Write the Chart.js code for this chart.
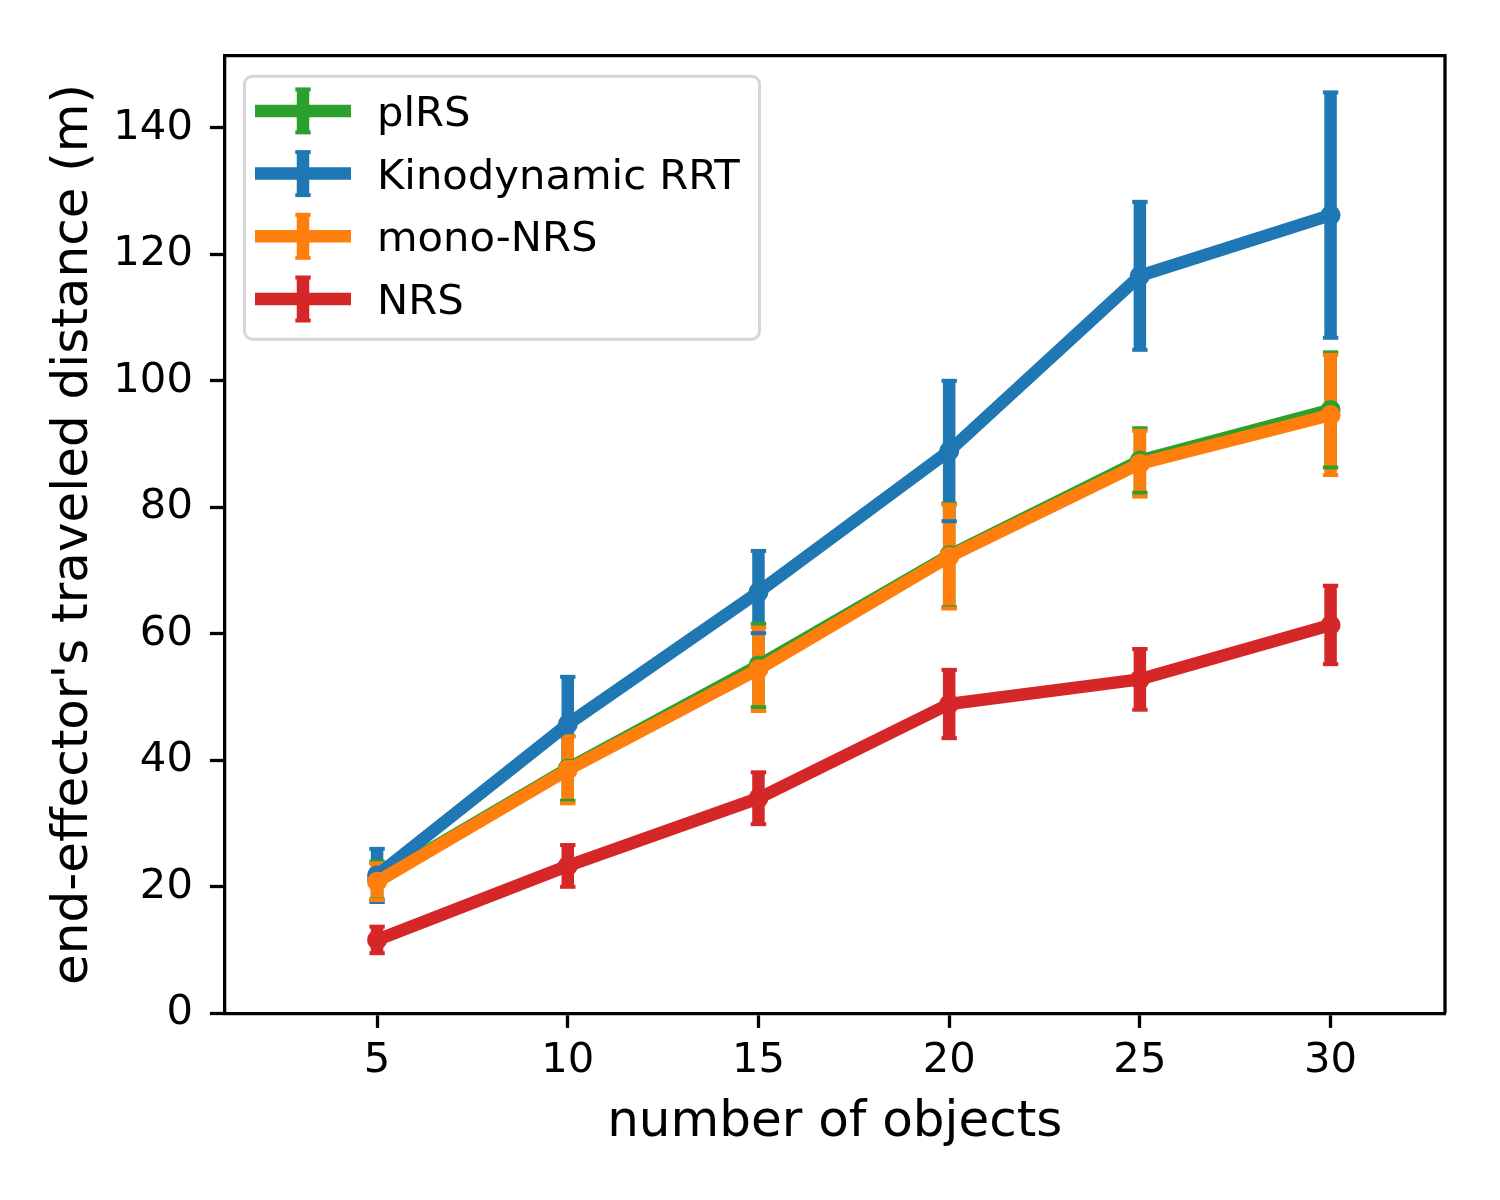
<!DOCTYPE html>
<html>
<head>
<meta charset="utf-8">
<script src="https://cdn.jsdelivr.net/npm/chart.js@4.4.1/dist/chart.umd.min.js"></script>
<style>
  html, body { margin: 0; padding: 0; background: #fff; }
  #wrap { width: 1500px; height: 1200px; }
</style>
</head>
<body>
<div id="wrap"><canvas id="grafico" width="1500" height="1200"></canvas></div>
<script>
// dados
const objetos = [5, 10, 15, 20, 25, 30];
const plrsMedia = [21.0, 38.7, 55.0, 72.4, 87.4, 95.4];
const plrsErro = [3.0, 5.1, 6.6, 8.2, 5.1, 9.1];
const rrtMedia = [21.8, 45.7, 66.6, 88.9, 116.6, 126.2];
const rrtErro = [4.2, 7.5, 6.5, 11.1, 11.7, 19.4];
const monoMedia = [20.8, 38.5, 54.4, 72.2, 86.9, 94.6];
const monoErro = [2.9, 5.3, 6.6, 8.2, 5.2, 9.5];
const nrsMedia = [11.6, 23.3, 34.0, 48.9, 52.8, 61.4];
const nrsErro = [2.1, 3.3, 4.1, 5.4, 4.8, 6.2];
const xTicks = [5, 10, 15, 20, 25, 30];
const yTicks = [0, 20, 40, 60, 80, 100, 120, 140];

const FONTE = 'DejaVu Sans';
const LARGURA = 12.5;

function serie(label, cor, medias, erros, ordem) {
  return {
    label: label,
    data: objetos.map((x, i) => ({ x: x, y: medias[i] })),
    erro: erros,
    borderColor: cor,
    backgroundColor: cor,
    borderWidth: LARGURA,
    borderJoinStyle: 'round',
    pointRadius: 10,
    pointBorderWidth: 0,
    pointBackgroundColor: cor,
    tension: 0,
    order: ordem
  };
}

// barras de erro (todas abaixo das linhas, como no matplotlib)
const barrasErro = {
  id: 'barrasErro',
  beforeDatasetsDraw(chart) {
    const { ctx, scales: { x, y } } = chart;
    const series = chart.data.datasets;
    ctx.save();
    ctx.lineCap = 'butt';
    series.forEach(ds => {
      ctx.strokeStyle = ds.borderColor;
      ctx.lineWidth = LARGURA;
      ds.data.forEach((p, i) => {
        const px = x.getPixelForValue(p.x);
        ctx.beginPath();
        ctx.moveTo(px, y.getPixelForValue(p.y - ds.erro[i]));
        ctx.lineTo(px, y.getPixelForValue(p.y + ds.erro[i]));
        ctx.stroke();
      });
    });
    series.forEach(ds => {
      ctx.strokeStyle = ds.borderColor;
      ctx.lineWidth = 4;
      ds.data.forEach((p, i) => {
        const px = x.getPixelForValue(p.x);
        [p.y - ds.erro[i], p.y + ds.erro[i]].forEach(v => {
          const py = y.getPixelForValue(v);
          ctx.beginPath();
          ctx.moveTo(px - 7.7, py);
          ctx.lineTo(px + 7.7, py);
          ctx.stroke();
        });
      });
    });
    ctx.restore();
  },
  afterDatasetsDraw(chart) {
    // bordas de cima e da direita
    const { ctx, chartArea } = chart;
    ctx.save();
    ctx.strokeStyle = '#000';
    ctx.lineWidth = 3.3;
    ctx.beginPath();
    ctx.moveTo(chartArea.left, chartArea.top);
    ctx.lineTo(chartArea.right, chartArea.top);
    ctx.lineTo(chartArea.right, chartArea.bottom);
    ctx.stroke();
    ctx.restore();
  }
};

// legenda no estilo matplotlib
const legenda = {
  id: 'legenda',
  afterDraw(chart) {
    const { ctx, chartArea } = chart;
    const bx = chartArea.left + 20, by = chartArea.top + 20.5;
    ctx.save();
    ctx.beginPath();
    ctx.roundRect(bx, by, 515, 263, 8);
    ctx.fillStyle = 'rgba(255,255,255,0.8)';
    ctx.fill();
    ctx.strokeStyle = '#d6d6d6';
    ctx.lineWidth = 3;
    ctx.stroke();
    ctx.font = '41.7px "' + FONTE + '"';
    ctx.textBaseline = 'alphabetic';
    chart.data.datasets.forEach((ds, i) => {
      const cy = by + 34.7 + i * 62.7;
      const cx = bx + 58.5;
      ctx.strokeStyle = ds.borderColor;
      ctx.lineCap = 'butt';
      ctx.lineWidth = LARGURA;
      ctx.beginPath();
      ctx.moveTo(bx + 10.5, cy);
      ctx.lineTo(bx + 106.5, cy);
      ctx.stroke();
      ctx.beginPath();
      ctx.moveTo(cx, cy - 21.5);
      ctx.lineTo(cx, cy + 21.5);
      ctx.stroke();
      ctx.lineWidth = 4;
      [cy - 21.5, cy + 21.5].forEach(py => {
        ctx.beginPath();
        ctx.moveTo(cx - 7.7, py);
        ctx.lineTo(cx + 7.7, py);
        ctx.stroke();
      });
      ctx.fillStyle = '#000';
      ctx.fillText(ds.label, bx + 132.5, cy + 15);
    });
    ctx.restore();
  }
};

Chart.defaults.font.family = FONTE;
Chart.defaults.color = '#000';

const ctx = document.getElementById('grafico').getContext('2d');
const myChart = new Chart(ctx, {
  type: 'line',
  data: {
    datasets: [
      serie('plRS', '#2ca02c', plrsMedia, plrsErro, 4),
      serie('Kinodynamic RRT', '#1f77b4', rrtMedia, rrtErro, 3),
      serie('mono-NRS', '#ff7f0e', monoMedia, monoErro, 2),
      serie('NRS', '#d62728', nrsMedia, nrsErro, 1)
    ]
  },
  options: {
    responsive: false,
    animation: false,
    devicePixelRatio: 1,
    layout: { padding: { top: 55.7, right: 55, left: 0, bottom: 0 } },
    plugins: {
      legend: { display: false },
      tooltip: { enabled: false }
    },
    scales: {
      x: {
        type: 'linear',
        min: 1,
        max: 33,
        afterBuildTicks: s => { s.ticks = xTicks.map(v => ({ value: v })); },
        afterFit: s => { s.height = 186.7; },
        grid: { drawOnChartArea: false, drawTicks: true, tickLength: 14.6, tickWidth: 3.3, tickColor: '#000' },
        border: { display: true, color: '#000', width: 3.3 },
        ticks: { font: { size: 41.7 }, padding: 8, maxRotation: 0, autoSkip: false },
        title: { display: true, text: 'number of objects', font: { size: 50 }, padding: { top: 0, bottom: 46.5 } }
      },
      y: {
        type: 'linear',
        min: 0,
        max: 151.4,
        afterBuildTicks: s => { s.ticks = yTicks.map(v => ({ value: v })); },
        afterFit: s => { s.width = 224.5; },
        grid: { drawOnChartArea: false, drawTicks: true, tickLength: 14.6, tickWidth: 3.3, tickColor: '#000' },
        border: { display: true, color: '#000', width: 3.3 },
        ticks: { font: { size: 41.7 }, padding: 17, autoSkip: false },
        title: { display: true, text: "end-effector's traveled distance (m)", font: { size: 50 }, padding: { top: 44, bottom: 0 } }
      }
    }
  },
  plugins: [barrasErro, legenda]
});
</script>
</body>
</html>
